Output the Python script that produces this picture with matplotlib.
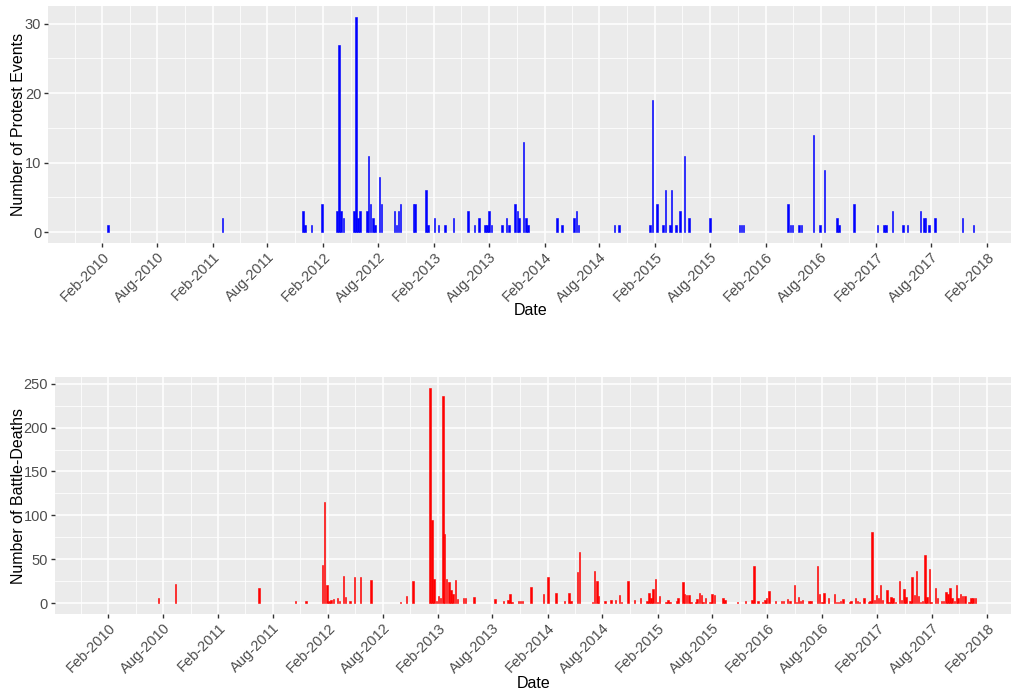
import numpy as np
import pandas as pd
import matplotlib
matplotlib.use("Agg")
import matplotlib.pyplot as plt
import matplotlib.dates as mdates

plt.rcParams['font.family'] = ['Liberation Sans', 'DejaVu Sans']

# weekly protest events
protest_dates = ["2010-02-21", "2011-03-05", "2011-11-27", "2011-12-03", "2011-12-25", "2012-01-28",
                 "2012-03-18", "2012-03-25", "2012-03-31", "2012-04-08", "2012-05-13", "2012-05-19",
                 "2012-05-26", "2012-06-02", "2012-06-24", "2012-06-30", "2012-07-07", "2012-07-14",
                 "2012-07-21", "2012-08-05", "2012-08-11", "2012-09-23", "2012-09-30", "2012-10-06",
                 "2012-10-13", "2012-11-25", "2012-12-01", "2013-01-06", "2013-01-13", "2013-02-02",
                 "2013-02-16", "2013-03-09", "2013-04-06", "2013-05-25", "2013-06-15", "2013-06-30",
                 "2013-07-19", "2013-07-26", "2013-08-02", "2013-08-10", "2013-09-13", "2013-09-28",
                 "2013-10-06", "2013-10-27", "2013-11-03", "2013-11-09", "2013-11-24", "2013-12-01",
                 "2013-12-09", "2014-03-15", "2014-03-31", "2014-05-10", "2014-05-17", "2014-05-24",
                 "2014-09-20", "2014-10-05", "2015-01-16", "2015-01-24", "2015-02-08", "2015-02-28",
                 "2015-03-07", "2015-03-23", "2015-03-28", "2015-04-12", "2015-04-25", "2015-05-09",
                 "2015-05-24", "2015-08-02", "2015-11-07", "2015-11-13", "2015-11-21", "2016-04-16",
                 "2016-04-23", "2016-04-30", "2016-05-22", "2016-05-29", "2016-07-09", "2016-07-30",
                 "2016-08-13", "2016-09-24", "2016-10-01", "2016-11-19", "2017-02-04", "2017-02-26",
                 "2017-03-04", "2017-03-26", "2017-04-30", "2017-05-15", "2017-06-26", "2017-07-09",
                 "2017-07-14", "2017-07-25", "2017-08-14", "2017-11-13", "2017-12-19"]
protest_counts = [1, 2, 3, 1, 1, 4,
                  3, 27, 3, 2, 3, 31,
                  2, 3, 3, 11, 4, 2,
                  1, 8, 4, 3, 1, 3,
                  4, 4, 4, 6, 1, 2,
                  1, 1, 2, 3, 1, 2,
                  1, 1, 3, 1, 1, 2,
                  1, 4, 3, 2, 13, 2,
                  1, 2, 1, 2, 3, 1,
                  1, 1, 1, 19, 4, 1,
                  6, 1, 6, 1, 3, 11,
                  2, 2, 1, 1, 1, 4,
                  1, 1, 1, 1, 14, 1,
                  9, 2, 1, 4, 1, 1,
                  1, 3, 1, 1, 3, 2,
                  2, 1, 2, 2, 1]

# weekly battle-deaths
death_dates = ["2010-07-17", "2010-09-12", "2011-06-17", "2011-10-16", "2011-11-20", "2012-01-14",
               "2012-01-21", "2012-01-28", "2012-02-04", "2012-02-11", "2012-02-19", "2012-03-03",
               "2012-03-10", "2012-03-24", "2012-03-31", "2012-04-14", "2012-04-29", "2012-05-20",
               "2012-06-23", "2012-09-30", "2012-10-20", "2012-11-10", "2013-01-05", "2013-01-12",
               "2013-01-19", "2013-01-27", "2013-02-02", "2013-02-09", "2013-02-17", "2013-02-23",
               "2013-03-02", "2013-03-09", "2013-03-16", "2013-03-23", "2013-03-31", "2013-04-06",
               "2013-04-27", "2013-05-04", "2013-06-01", "2013-08-10", "2013-09-07", "2013-09-21",
               "2013-09-28", "2013-10-05", "2013-10-27", "2013-11-02", "2013-11-09", "2013-12-08",
               "2014-01-18", "2014-02-01", "2014-03-01", "2014-03-29", "2014-04-12", "2014-04-20",
               "2014-05-11", "2014-05-18", "2014-06-29", "2014-07-06", "2014-07-14", "2014-07-20",
               "2014-08-10", "2014-08-31", "2014-09-15", "2014-09-28", "2014-10-05", "2014-10-26",
               "2014-11-16", "2014-12-07", "2014-12-28", "2015-01-04", "2015-01-10", "2015-01-17",
               "2015-01-25", "2015-02-01", "2015-02-08", "2015-03-01", "2015-03-08", "2015-03-15",
               "2015-04-05", "2015-04-11", "2015-04-26", "2015-05-02", "2015-05-09", "2015-05-16",
               "2015-05-23", "2015-06-07", "2015-06-13", "2015-06-20", "2015-06-27", "2015-07-03",
               "2015-07-11", "2015-07-26", "2015-08-02", "2015-08-09", "2015-09-06", "2015-09-13",
               "2015-10-25", "2015-11-21", "2015-12-13", "2015-12-19", "2016-01-02", "2016-01-17",
               "2016-01-24", "2016-01-30", "2016-02-06", "2016-02-28", "2016-03-20", "2016-03-26",
               "2016-04-09", "2016-04-16", "2016-05-01", "2016-05-08", "2016-05-15", "2016-05-22",
               "2016-05-29", "2016-06-19", "2016-06-26", "2016-07-17", "2016-07-24", "2016-08-01",
               "2016-08-07", "2016-08-22", "2016-09-11", "2016-09-18", "2016-09-25", "2016-10-02",
               "2016-10-10", "2016-10-31", "2016-11-06", "2016-11-20", "2016-11-27", "2016-12-04",
               "2016-12-18", "2017-01-02", "2017-01-08", "2017-01-15", "2017-01-22", "2017-01-29",
               "2017-02-05", "2017-02-12", "2017-02-19", "2017-03-05", "2017-03-12", "2017-03-19",
               "2017-03-26", "2017-04-02", "2017-04-16", "2017-04-23", "2017-04-30", "2017-05-07",
               "2017-05-21", "2017-05-28", "2017-06-04", "2017-06-11", "2017-06-18", "2017-06-25",
               "2017-07-02", "2017-07-09", "2017-07-17", "2017-07-24", "2017-07-30", "2017-08-13",
               "2017-08-20", "2017-09-02", "2017-09-09", "2017-09-17", "2017-09-24", "2017-10-01",
               "2017-10-07", "2017-10-15", "2017-10-22", "2017-10-28", "2017-11-05", "2017-11-12",
               "2017-11-19", "2017-12-03", "2017-12-10", "2017-12-17", "2017-12-24"]
death_counts = [6, 22, 17, 2, 2, 44,
                115, 21, 2, 4, 5, 6,
                2, 31, 7, 3, 30, 30,
                26, 1, 8, 25, 245, 95,
                28, 3, 8, 6, 236, 79,
                28, 24, 15, 11, 26, 5,
                6, 6, 7, 5, 3, 4,
                10, 1, 2, 2, 3, 19,
                11, 30, 12, 2, 12, 3,
                36, 58, 1, 37, 25, 8,
                3, 4, 4, 9, 1, 25,
                4, 6, 2, 12, 6, 16,
                28, 1, 8, 1, 4, 1,
                3, 6, 24, 11, 9, 9,
                1, 1, 5, 12, 9, 1,
                6, 1, 11, 9, 6, 4,
                1, 3, 4, 42, 2, 1,
                4, 6, 14, 2, 2, 3,
                5, 2, 21, 1, 7, 2,
                4, 2, 3, 42, 10, 1,
                12, 6, 11, 1, 1, 3,
                5, 1, 3, 6, 3, 1,
                6, 1, 3, 81, 4, 9,
                6, 21, 4, 15, 1, 7,
                6, 1, 25, 4, 16, 7,
                2, 30, 9, 37, 8, 1,
                3, 55, 7, 39, 1, 17,
                6, 3, 3, 13, 11, 17,
                6, 2, 21, 6, 11, 8,
                8, 1, 6, 6, 6]

tick_dates = pd.date_range("2010-02-01", "2018-02-01", freq="6MS")

fig = plt.figure(figsize=(10.12, 6.93), dpi=100)
ax1 = fig.add_axes([0.0477, 0.6494, 0.9523, 0.342])
ax2 = fig.add_axes([0.0543, 0.1140, 0.9457, 0.3416])

ax1.bar(pd.to_datetime(protest_dates), protest_counts, width=5,
        color="#0000FF", edgecolor="#0000FF", linewidth=0.4)
ax2.bar(pd.to_datetime(death_dates), death_counts, width=5,
        color="#FF0000", edgecolor="#FF0000", linewidth=0.4)

majors = mdates.date2num(tick_dates)
step = majors[1] - majors[0]
minors = np.concatenate([[majors[0] - step / 2], (majors[:-1] + majors[1:]) / 2])

for ax, ylim, yt, ymin, ylab, ycen in [
        (ax1, (-1.55, 32.55), [0, 10, 20, 30], [5, 15, 25], "Number of Protest Events", 0.8203),
        (ax2, (-12.25, 257.25), [0, 50, 100, 150, 200, 250], [25, 75, 125, 175, 225],
         "Number of Battle-Deaths", 0.2848)]:
    ax.set_facecolor("#EBEBEB")
    ax.set_xlim(pd.Timestamp("2009-08-07"), pd.Timestamp("2018-04-25"))
    ax.set_ylim(*ylim)
    ax.set_xticks(tick_dates)
    ax.set_xticks(minors, minor=True)
    ax.xaxis.set_major_formatter(mdates.DateFormatter("%b-%Y"))
    ax.set_yticks(yt)
    ax.set_yticks(ymin, minor=True)
    ax.grid(which="major", color="white", linewidth=1.1)
    ax.grid(which="minor", color="white", linewidth=0.55)
    ax.set_axisbelow(True)
    for s in ax.spines.values():
        s.set_visible(False)
    ax.tick_params(which="major", length=3, width=1, color="#333333",
                   labelcolor="#4D4D4D", labelsize=10.5, pad=2)
    ax.tick_params(which="minor", length=0)
    for lbl in ax.get_xticklabels():
        lbl.set_rotation(45)
        lbl.set_ha("right")
        lbl.set_rotation_mode("anchor")
    fig.text(0.018, ycen, ylab, rotation=90, ha="center", va="center", fontsize=11.5)

fig.text((48.3 + 1012) / 2 / 1012, 1 - 311 / 693, "Date", ha="center", va="center", fontsize=11.5)
fig.text((55 + 1012) / 2 / 1012, 1 - 683 / 693, "Date", ha="center", va="center", fontsize=11.5)

fig.savefig("out.png", dpi=100)
